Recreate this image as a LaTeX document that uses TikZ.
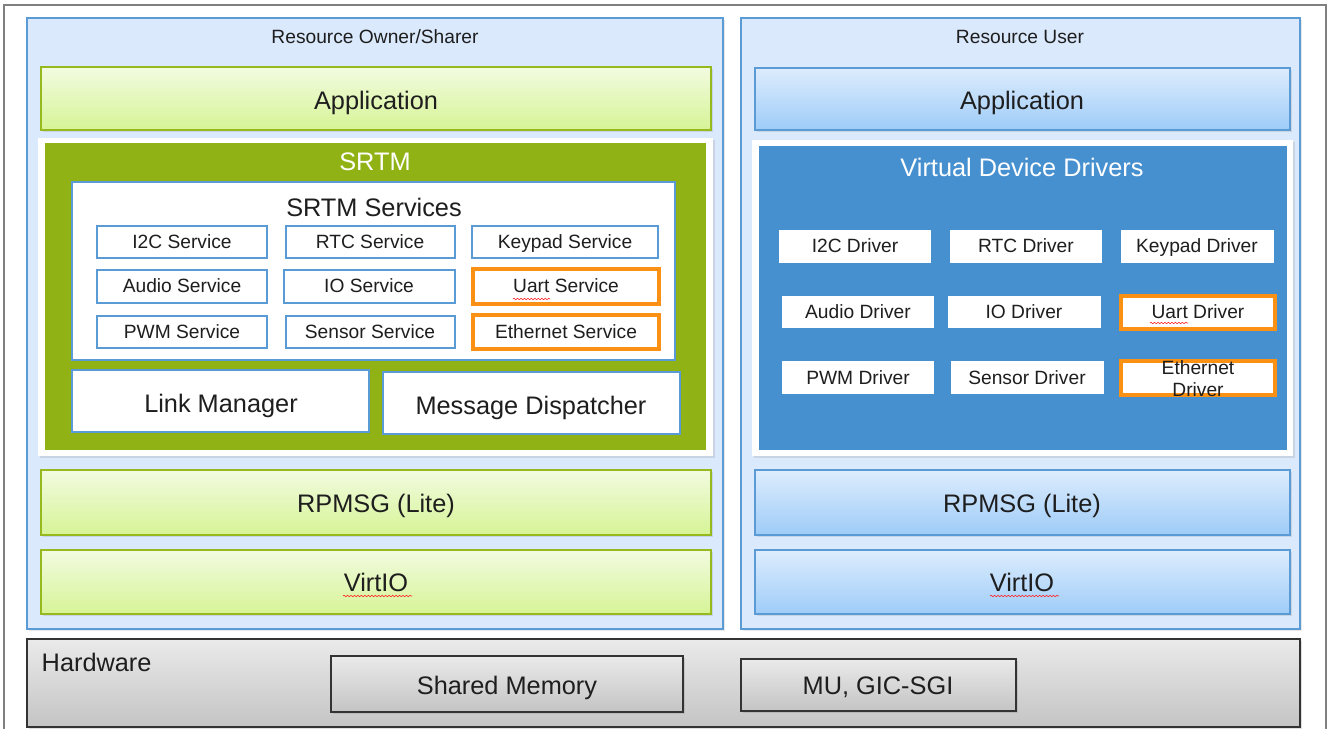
\documentclass[tikz,border=0pt]{standalone}
\usepackage{fontspec}
\setmainfont{Liberation Sans}
\usetikzlibrary{shadows,decorations.pathmorphing}

\definecolor{panelfill}{RGB}{218,233,252}
\definecolor{panelline}{RGB}{91,155,213}
\definecolor{greenline}{RGB}{150,185,30}
\definecolor{greentop}{RGB}{242,251,224}
\definecolor{greenbot}{RGB}{214,244,150}
\definecolor{srtmgreen}{RGB}{145,178,20}
\definecolor{bluetop}{RGB}{221,236,253}
\definecolor{bluebot}{RGB}{158,204,248}
\definecolor{vddblue}{RGB}{70,144,208}
\definecolor{uartorange}{RGB}{250,145,20}
\definecolor{hwtop}{RGB}{234,234,234}
\definecolor{hwbot}{RGB}{196,196,196}
\definecolor{txt}{RGB}{30,30,30}

\begin{document}
\begin{tikzpicture}[x=0.75pt,y=0.75pt,yscale=-1,xscale=1,
  small/.style={font=\fontsize{14.4}{16.5}\selectfont,text=txt,anchor=base,yshift=-5.2pt},
  big/.style={font=\fontsize{19}{23}\selectfont,text=txt,anchor=base,yshift=-6.8pt},
  panel/.style={draw=panelline,fill=panelfill,line width=0.9pt,drop shadow={opacity=0.18,shadow xshift=1.5pt,shadow yshift=-1.5pt}},
  greenbar/.style={draw=greenline,line width=1.1pt,top color=greentop,bottom color=greenbot,drop shadow={opacity=0.2,shadow xshift=1.5pt,shadow yshift=-1.5pt}},
  bluebar/.style={draw=panelline,line width=1.1pt,top color=bluetop,bottom color=bluebot,drop shadow={opacity=0.2,shadow xshift=1.5pt,shadow yshift=-1.5pt}},
  frame/.style={fill=white,drop shadow={opacity=0.2,shadow xshift=1.5pt,shadow yshift=-1.5pt}},
  svcbox/.style={draw=panelline,fill=white,line width=0.9pt},
  drvbox/.style={fill=white},
  hotbox/.style={draw=uartorange,fill=white,line width=2.6pt},
  hwbox/.style={draw=black!80,line width=0.9pt,top color=hwtop,bottom color=hwbot,drop shadow={opacity=0.25,shadow xshift=1.5pt,shadow yshift=-1.5pt}},
  squiggle/.style={draw=red!85,line width=0.45pt,decorate,decoration={snake,amplitude=0.55pt,segment length=2.6pt}}
]
\useasboundingbox (0,0) rectangle (1328,729);

%Outer frame
\draw [gray,line width=0.8pt] (4,729) -- (4,5) -- (1326,5) -- (1326,729) ;

%Panels
\draw [panel] (27,18) rectangle (723,629) ;
\draw [panel] (741,18) rectangle (1300,629) ;
\node [small] (ownerTitle) at (375,37) {Resource Owner/Sharer};
\node [small] (userTitle) at (1020,37) {Resource User};

%Resource owner side
\draw [greenbar] (41,67) rectangle (711,130) ;
\node [big] (ownerApp) at (376,100) {Application};

\path [frame] (38,138) rectangle (713,456) ;
\fill [srtmgreen] (45,143) rectangle (706,450) ;
\node [big,text=white] (srtmTitle) at (375,161) {SRTM};

\draw [svcbox,line width=1.3pt] (72,182) rectangle (675,360) ;
\node [big] (svcTitle) at (374,207) {SRTM Services};

\draw [svcbox] (97,226) rectangle (267,258) ;
\node [small] (svcI2C) at (182,242) {I2C Service};
\draw [svcbox] (286,226) rectangle (455,258) ;
\node [small] (svcRTC) at (370,242) {RTC Service};
\draw [svcbox] (472,226) rectangle (658,258) ;
\node [small] (svcKeypad) at (565,242) {Keypad Service};

\draw [svcbox] (97,270) rectangle (267,303) ;
\node [small] (svcAudio) at (182,286) {Audio Service};
\draw [svcbox] (284,270) rectangle (455,303) ;
\node [small] (svcIO) at (369,286) {IO Service};
\draw [hotbox] (473,269) rectangle (659,304) ;
\node [small] (svcUart) at (566,286) {Uart Service};

\draw [svcbox] (97,316) rectangle (267,348) ;
\node [small] (svcPWM) at (182,332) {PWM Service};
\draw [svcbox] (286,316) rectangle (455,348) ;
\node [small] (svcSensor) at (370,332) {Sensor Service};
\draw [hotbox] (473,315) rectangle (659,349) ;
\node [small] (svcEth) at (566,332) {Ethernet Service};

\draw [svcbox,line width=1.3pt] (72,370) rectangle (369,432) ;
\node [big] (linkMgr) at (221,403) {Link Manager};
\draw [svcbox,line width=1.3pt] (383,372) rectangle (680,434) ;
\node [big] (msgDisp) at (531,405) {Message Dispatcher};

\draw [greenbar] (41,470) rectangle (711,535) ;
\node [big] (ownerRpmsg) at (376,503) {RPMSG (Lite)};
\draw [greenbar] (41,550) rectangle (711,614) ;
\node [big] (ownerVirtio) at (376,582) {VirtIO};

%Resource user side
\draw [bluebar] (755,68) rectangle (1290,130) ;
\node [big] (userApp) at (1022,100) {Application};

\path [frame] (752,140) rectangle (1293,456) ;
\fill [vddblue] (759,146) rectangle (1287,450) ;
\node [big,text=white] (vddTitle) at (1022,167) {Virtual Device Drivers};

\fill [drvbox] (779,230) rectangle (931,263) ;
\node [small] (drvI2C) at (855,246) {I2C Driver};
\fill [drvbox] (950,230) rectangle (1102,263) ;
\node [small] (drvRTC) at (1026,246) {RTC Driver};
\fill [drvbox] (1121,230) rectangle (1274,263) ;
\node [small] (drvKeypad) at (1197,246) {Keypad Driver};

\fill [drvbox] (782,296) rectangle (934,328) ;
\node [small] (drvAudio) at (858,312) {Audio Driver};
\fill [drvbox] (948,296) rectangle (1101,328) ;
\node [small] (drvIO) at (1024,312) {IO Driver};
\draw [hotbox] (1121,296) rectangle (1275,329) ;
\node [small] (drvUart) at (1198,312) {Uart Driver};

\fill [drvbox] (782,361) rectangle (934,394) ;
\node [small] (drvPWM) at (858,378) {PWM Driver};
\fill [drvbox] (951,361) rectangle (1104,394) ;
\node [small] (drvSensor) at (1027,378) {Sensor Driver};
\draw [hotbox] (1121,361) rectangle (1275,395) ;
\node [small,align=center,inner sep=0pt,anchor=center] (drvEth) at (1198,372) {Ethernet\\Driver};

\draw [bluebar] (755,470) rectangle (1290,535) ;
\node [big] (userRpmsg) at (1022,503) {RPMSG (Lite)};
\draw [bluebar] (755,550) rectangle (1290,614) ;
\node [big] (userVirtio) at (1022,582) {VirtIO};

%Spell-check marks
\draw [squiggle] (513,299) -- (550,299) ;
\draw [squiggle] (1150,323) -- (1188,323) ;
\draw [squiggle] (343,596) -- (412,596) ;
\draw [squiggle] (990,596) -- (1059,596) ;

%Hardware
\draw [hwbox] (27,639) rectangle (1300,727) ;
\node [big,anchor=base west] (hwTitle) at (37,662) {Hardware};
\draw [hwbox] (331,656) rectangle (683,712) ;
\node [big] (sharedMem) at (507,685) {Shared Memory};
\draw [hwbox] (741,659) rectangle (1016,711) ;
\node [big] (muGic) at (878,685) {MU, GIC-SGI};

\end{tikzpicture}
\end{document}
